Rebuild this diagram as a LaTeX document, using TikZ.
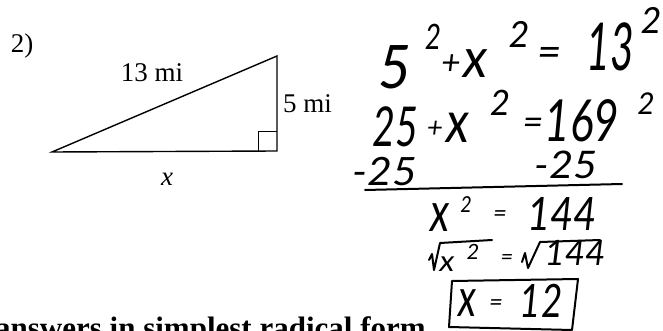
\documentclass[tikz,border=0pt]{standalone}
\usepackage{fontspec}
\usetikzlibrary{calc}
\setmainfont{Liberation Serif}
\newfontfamily\hand{Lato}
\newcommand\hw[3]{\scalebox{#2}[1]{\fontsize{#1}{#1}\selectfont\hand\itshape #3}}
\begin{document}
\begin{tikzpicture}[x=1pt,y=-1pt,
  lbl/.style={inner sep=0pt,font=\fontsize{27}{30}\selectfont},
  hnd/.style={inner sep=0pt},
  tri/.style={line width=1.4pt,line join=miter},
  ink/.style={line width=2pt,line cap=round,line join=round}]
\useasboundingbox (0,0) rectangle (663,331);
\clip (0,0) rectangle (663,331);
% problem number and triangle
\node[lbl] (num) at (22,46) {2)};
\coordinate (A) at (52,152);
\coordinate (B) at (277,151);
\coordinate (C) at (277,56);
\draw[tri] (A) -- (B) -- (C) -- cycle;
\draw[line width=1pt] ($(B)+(-19,0)$) -- ++(0,-19) -- ++(19,0);
\node[lbl] (hyp) at (152,73) {13 mi};
\node[lbl,anchor=west] (leg) at (283,104) {5 mi};
\node[lbl] (base) at (167,179) {\itshape x};
% row 1
\node[hnd] (r1a) at (395,67) {\hw{60}{0.95}{5}};
\node[hnd] (r1b) at (433,37) {\hw{35}{0.8}{2}};
\node[hnd] (r1c) at (451,65) {\hw{34}{1}{+}};
\node[hnd] (r1d) at (476,64) {\hw{55}{0.95}{x}};
\node[hnd] (r1e) at (519,34) {\hw{36}{1}{2}};
\node[hnd] (r1f) at (550,57) {\hw{42}{1}{=}};
\node[hnd] (r1g) at (610,47) {\hw{66}{0.62}{13}};
\node[hnd] (r1h) at (651,20) {\hw{36}{1}{2}};
% row 2
\node[hnd] (r2a) at (395,127) {\hw{55}{0.72}{25}};
\node[hnd] (r2b) at (435,129) {\hw{28}{1}{+}};
\node[hnd] (r2c) at (458,128) {\hw{58}{0.85}{x}};
\node[hnd] (r2d) at (500,103) {\hw{35}{1}{2}};
\node[hnd] (r2e) at (533,126) {\hw{36}{1}{=}};
\node[hnd] (r2f) at (582,121) {\hw{58}{0.76}{169}};
\node[hnd] (r2g) at (646,104) {\hw{30}{1}{2}};
% row 3
\node[hnd] (r3a) at (385,172) {\hw{39}{1.1}{-25}};
\node[hnd] (r3b) at (566,165) {\hw{38}{1.1}{-25}};
\coordinate (L1) at (365,190);
\coordinate (L2) at (622,184);
\draw[ink] (L1) -- (L2);
% row 4
\node[hnd] (r4a) at (440,218) {\hw{55}{0.75}{x}};
\node[hnd] (r4b) at (466,205) {\hw{22}{0.9}{2}};
\node[hnd] (r4c) at (500,216) {\hw{24}{1}{=}};
\node[hnd] (r4d) at (562,214) {\hw{46}{0.87}{144}};
% row 5
\draw[ink] (429,260) -- (432,254) -- (434,270) -- (440,243) -- (492,240);
\node[hnd] (r5a) at (447,264) {\hw{29}{1.1}{x}};
\node[hnd] (r5b) at (473,252) {\hw{21}{1.05}{2}};
\node[hnd] (r5c) at (507,260) {\hw{22}{1}{=}};
\draw[ink] (522,262) -- (525,253) -- (528,268) -- (540,242) -- (600,240);
\node[hnd] (r5d) at (575,253) {\hw{35}{1}{144}};
% row 6 boxed answer
\draw[ink] (452,281) -- (578,279) -- (572,330) -- (449,327) -- cycle;
\node[hnd] (r6a) at (467,303) {\hw{53}{0.73}{x}};
\node[hnd] (r6b) at (496,305) {\hw{24}{1}{=}};
\node[hnd] (r6c) at (541,301) {\hw{46}{0.8}{12}};
% bottom text
\node[inner sep=0pt,anchor=base west,font=\fontsize{31}{34}\selectfont\bfseries] (foot) at (-5,338) {answers in simplest radical form};
\end{tikzpicture}
\end{document}
